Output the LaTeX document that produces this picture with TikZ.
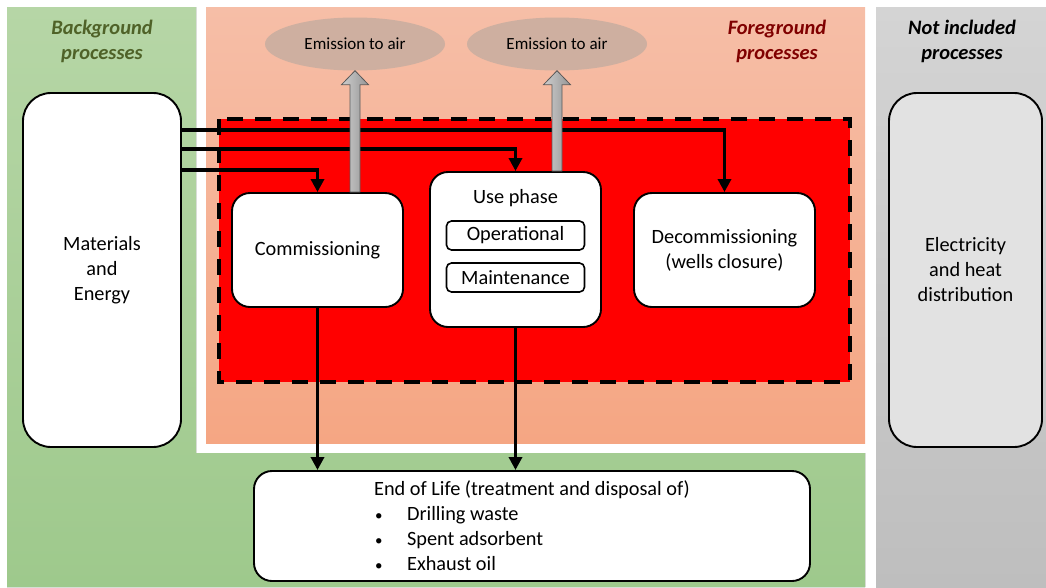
\documentclass[tikz,border=0pt]{standalone}
\usepackage{fontspec}
\setmainfont{Carlito}
\usetikzlibrary{arrows.meta,shapes.geometric,calc}

\definecolor{bggreentop}{RGB}{182,214,166}
\definecolor{bggreenbot}{RGB}{158,201,140}
\definecolor{fgorangetop}{RGB}{246,190,167}
\definecolor{fgorangebot}{RGB}{245,166,131}
\definecolor{nigreytop}{RGB}{212,212,212}
\definecolor{nigreybot}{RGB}{190,190,190}
\definecolor{nibox}{RGB}{226,226,226}
\definecolor{emisfill}{RGB}{206,175,160}
\definecolor{bgtitle}{RGB}{79,98,40}
\definecolor{fgtitle}{RGB}{128,0,0}
\definecolor{arrowlight}{RGB}{205,205,205}
\definecolor{arrowdark}{RGB}{150,150,150}

\tikzset{
  procbox/.style={draw, line width=1.9pt, fill=white, rounded corners=18pt,
    align=center, inner sep=0pt, font=\fontsize{20.3}{25}\selectfont},
  subbox/.style={draw, line width=1.6pt, fill=white, rounded corners=5pt,
    minimum width=138pt, minimum height=29pt, inner sep=0pt,
    font=\fontsize{20.3}{25}\selectfont},
  emission/.style={ellipse, fill=emisfill, minimum width=180pt, minimum height=53pt,
    inner sep=0pt, font=\fontsize{17}{20}\selectfont},
  title/.style={align=center, font=\fontsize{20.5}{25}\selectfont\bfseries\itshape},
  flow/.style={line width=3.3pt, -{Triangle[length=13pt,width=13pt]}},
}

% grey block arrow going up from #1 to #2
\newcommand\emisarrow[2]{%
  \draw[draw=black!65, line width=0.8pt, left color=arrowlight, right color=arrowdark]
    ($(#1)+(-5,0)$) -- ($(#2)+(-5,14)$) -- ($(#2)+(-13.5,14)$) -- (#2)
    -- ($(#2)+(13.5,14)$) -- ($(#2)+(5,14)$) -- ($(#1)+(5,0)$) -- cycle;}
\newcommand\eolitem[1]{\makebox[33pt][l]{\hspace{1pt}{\fontsize{15}{15}\selectfont\textbullet}}#1}

\begin{document}
\begin{tikzpicture}[x=1pt,y=-1pt]
  \useasboundingbox (0,0) rectangle (1046,587);

  % regions
  \fill[top color=bggreentop, bottom color=bggreenbot]
    (7,7) -- (196,7) -- (196,453) -- (865,453) -- (865,587) -- (7,587) -- cycle;
  \fill[top color=fgorangetop, bottom color=fgorangebot] (206,7) rectangle (865,443);
  \fill[top color=nigreytop, bottom color=nigreybot] (876,7) rectangle (1046,587);

  \node[title, text=bgtitle] (bgttl) at (102,41) {Background\\processes};
  \node[title, text=fgtitle] (fgttl) at (777,41) {Foreground\\processes};
  \node[title] (nittl) at (962,41) {Not included\\processes};

  % system boundary
  \draw[fill=red, line width=3.3pt, dash pattern=on 16pt off 12pt] (219,119) rectangle (850,382);

  % boxes
  \node[procbox, rounded corners=28pt, minimum width=158pt, minimum height=354pt]
    (mat) at (102,270) {Materials\\and\\Energy};
  \node[procbox, fill=nibox, rounded corners=28pt, minimum width=153pt, minimum height=354pt]
    (elec) at (965.5,270) {Electricity\\and heat\\distribution};
  \node[procbox, minimum width=171pt, minimum height=114pt]
    (comm) at (317.5,250) {Commissioning};
  \node[procbox, minimum width=171pt, minimum height=155pt] (use) at (515.5,249.5) {};
  \node[font=\fontsize{20.3}{25}\selectfont] (usettl) at (515.5,198) {Use phase};
  \node[subbox] (oper) at (515.5,235.5) {Operational};
  \node[subbox] (maint) at (515.5,277.5) {Maintenance};
  \node[procbox, minimum width=181pt, minimum height=114pt]
    (decom) at (724.5,250) {Decommissioning\\(wells closure)};
  \node[procbox, minimum width=556pt, minimum height=110pt, align=left]
    (eol) at (532,526) {End of Life (treatment and disposal of)\\
      \eolitem{Drilling waste}\\ \eolitem{Spent adsorbent}\\ \eolitem{Exhaust oil}};

  \node[emission] (em1) at (355,44) {Emission to air};
  \node[emission] (em2) at (557,44) {Emission to air};

  % flows
  \coordinate (mat1) at ([yshift=-38pt]mat.north east);
  \coordinate (mat2) at ([yshift=-57pt]mat.north east);
  \coordinate (mat3) at ([yshift=-78pt]mat.north east);
  \draw[flow] (mat1) -| (decom.north);
  \draw[flow] (mat2) -| (use.north);
  \draw[flow] (mat3) -| (comm.north);
  \draw[flow] (comm.south) -- (comm.south |- eol.north);
  \draw[flow] (use.south) -- (use.south |- eol.north);

  % emissions
  \coordinate (foot1) at (em1.south |- comm.north);
  \coordinate (foot2) at (em2.south |- use.north);
  \emisarrow{foot1}{em1.south}
  \emisarrow{foot2}{em2.south}
\end{tikzpicture}
\end{document}
